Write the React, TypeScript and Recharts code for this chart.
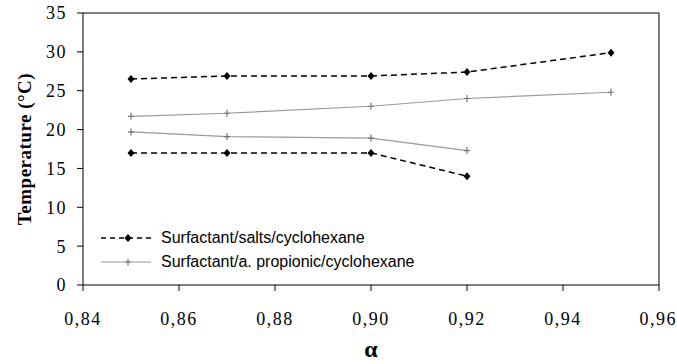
import { LineChart, Line, XAxis, YAxis, ReferenceLine, Legend } from 'recharts';

// alpha values (x) for each branch
const alphaUpper = [0.85, 0.87, 0.9, 0.92, 0.95];
const alphaLower = [0.85, 0.87, 0.9, 0.92];

// temperatures (°C)
const saltsUpper = [26.5, 26.9, 26.9, 27.4, 29.9];
const saltsLower = [17.0, 17.0, 17.0, 14.0];
const propionicUpper = [21.7, 22.1, 23.0, 24.0, 24.8];
const propionicLower = [19.7, 19.1, 18.9, 17.3];

const xTicks = [0.84, 0.86, 0.88, 0.9, 0.92, 0.94, 0.96];
const yTicks = [0, 5, 10, 15, 20, 25, 30, 35];
const seriesNames = ['Surfactant/salts/cyclohexane', 'Surfactant/a. propionic/cyclohexane'];

const toRows = (xs: number[], ys: number[]) => xs.map((a, i) => ({ a, t: ys[i] }));

const SERIF = '"Liberation Serif", "Times New Roman", serif';
const SANS = '"Liberation Sans", Arial, sans-serif';
const PROP_COLOR = '#9a9a9a';

const tickStyle = { fontFamily: SERIF, fontSize: 18, fill: '#000', letterSpacing: 1.5 };

const Diamond = (props: any) => {
  const { cx, cy } = props;
  if (cx == null || cy == null) return null;
  return (
    <path
      d={`M${cx},${cy - 4}L${cx + 3.5},${cy}L${cx},${cy + 4}L${cx - 3.5},${cy}Z`}
      fill="#000"
    />
  );
};

const Plus = (props: any) => {
  const { cx, cy } = props;
  if (cx == null || cy == null) return null;
  return (
    <path
      d={`M${cx - 3},${cy}H${cx + 3}M${cx},${cy - 3.5}V${cy + 3.5}`}
      stroke="#777"
      strokeWidth={1.2}
      fill="none"
    />
  );
};

const YTitle = (props: any) => {
  const vb = props.viewBox ?? { x: 0, y: 13, width: 83, height: 272 };
  const x = vb.x + 24;
  const y = vb.y + vb.height / 2;
  return (
    <text
      x={x}
      y={y}
      transform={`rotate(-90 ${x} ${y})`}
      textAnchor="middle"
      dominantBaseline="central"
      fontFamily={SERIF}
      fontWeight="bold"
      fontSize={19}
      letterSpacing={0.5}
      fill="#000"
    >
      Temperature (°C)
    </text>
  );
};

const XTitle = (props: any) => {
  const vb = props.viewBox ?? { x: 83, y: 285, width: 576, height: 79 };
  return (
    <text
      x={vb.x + vb.width / 2}
      y={vb.y + 72}
      textAnchor="middle"
      fontFamily={SERIF}
      fontWeight="bold"
      fontSize={24}
      fill="#000"
    >
      α
    </text>
  );
};

const renderLegend = () => (
  <div style={{ fontFamily: SANS, fontSize: 16, color: '#000', lineHeight: '24px' }}>
    <div style={{ display: 'flex', alignItems: 'center' }}>
      <svg width={50} height={10} style={{ marginRight: 10 }}>
        <line x1={0} y1={5} x2={50} y2={5} stroke="#000" strokeWidth={1.5} strokeDasharray="5 4" />
        <Diamond cx={27} cy={5} />
      </svg>
      <span>{seriesNames[0]}</span>
    </div>
    <div style={{ display: 'flex', alignItems: 'center' }}>
      <svg width={50} height={10} style={{ marginRight: 10 }}>
        <line x1={0} y1={5} x2={50} y2={5} stroke={PROP_COLOR} strokeWidth={1.2} />
        <Plus cx={27} cy={5} />
      </svg>
      <span>{seriesNames[1]}</span>
    </div>
  </div>
);

export default function App() {
  return (
    <div style={{ position: 'absolute', left: 0, top: 0, width: 677, height: 364, background: '#fff' }}>
      <LineChart width={677} height={364} margin={{ top: 13, right: 18, bottom: 0, left: 0 }}>
        <XAxis
          type="number"
          dataKey="a"
          domain={[0.84, 0.96]}
          ticks={xTicks}
          allowDataOverflow
          height={79}
          stroke="#000"
          tickSize={6}
          tickMargin={21}
          tick={tickStyle}
          tickFormatter={(v: number) => v.toFixed(2).replace('.', ',')}
          label={<XTitle />}
        />
        <YAxis
          type="number"
          dataKey="t"
          domain={[0, 35]}
          ticks={yTicks}
          width={83}
          stroke="#000"
          tickSize={6}
          tickMargin={10}
          tick={tickStyle}
          label={<YTitle />}
        />
        <ReferenceLine y={35} stroke="#000" />
        <ReferenceLine x={0.96} stroke="#000" />
        <Legend
          layout="vertical"
          align="center"
          verticalAlign="middle"
          content={renderLegend}
          wrapperStyle={{ left: 101, top: 226, width: 'auto' }}
        />
        <Line
          data={toRows(alphaUpper, saltsUpper)}
          dataKey="t"
          name={seriesNames[0]}
          stroke="#000"
          strokeWidth={1.5}
          strokeDasharray="6 4"
          dot={<Diamond />}
          activeDot={false}
          isAnimationActive={false}
        />
        <Line
          data={toRows(alphaLower, saltsLower)}
          dataKey="t"
          name={seriesNames[0] + ' (lower)'}
          legendType="none"
          stroke="#000"
          strokeWidth={1.5}
          strokeDasharray="6 4"
          dot={<Diamond />}
          activeDot={false}
          isAnimationActive={false}
        />
        <Line
          data={toRows(alphaUpper, propionicUpper)}
          dataKey="t"
          name={seriesNames[1]}
          stroke={PROP_COLOR}
          strokeWidth={1.2}
          dot={<Plus />}
          activeDot={false}
          isAnimationActive={false}
        />
        <Line
          data={toRows(alphaLower, propionicLower)}
          dataKey="t"
          name={seriesNames[1] + ' (lower)'}
          legendType="none"
          stroke={PROP_COLOR}
          strokeWidth={1.2}
          dot={<Plus />}
          activeDot={false}
          isAnimationActive={false}
        />
      </LineChart>
    </div>
  );
}
